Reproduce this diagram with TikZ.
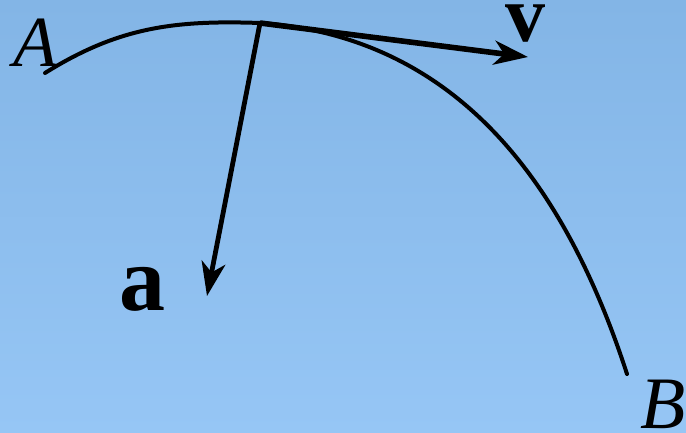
\documentclass[tikz,border=0pt]{standalone}
\usepackage{fontspec}
\setmainfont{Liberation Serif}
\usetikzlibrary{arrows.meta}
\definecolor{skyTop}{RGB}{131,181,230}
\definecolor{skyBot}{RGB}{150,198,245}

\begin{document}
\begin{tikzpicture}[
  x=0.5pt, y=-0.5pt,
  path/.style={line width=2pt, line cap=round},
  vec/.style={line width=2.4pt, -{Stealth[length=17pt, width=12pt, inset=5pt]}},
  lbl/.style={inner sep=0pt, anchor=base},
]
% background
\shade[top color=skyTop, bottom color=skyBot] (0,0) rectangle (686,433);
\useasboundingbox (0,0) rectangle (686,433);
% points on the path
\coordinate (pA) at (45,73);
\coordinate (pO) at (260,23);
\coordinate (pB) at (627,374);
\coordinate (tipV) at (528,57);
\coordinate (tipA) at (207,296);
% path A -> B
\draw[path] (pA) to[out=32, in=178] (pO) to[out=-4, in=108] (pB);
% vectors
\draw[vec, line width=2.8pt] (pO) -- (tipV);
\draw[vec] (pO) -- (tipA);
% labels
\node[lbl, font=\fontsize{36}{40}\selectfont\itshape] (lA) at (35,67) {A};
\node[lbl, font=\fontsize{37}{40}\selectfont\itshape] (lB) at (663,428) {B};
\node[lbl, font=\fontsize{40}{44}\selectfont\bfseries] (lv) at (525,42) {v};
\node[lbl, font=\fontsize{46}{50}\selectfont\bfseries] (la) at (142,310) {a};
\end{tikzpicture}
\end{document}
